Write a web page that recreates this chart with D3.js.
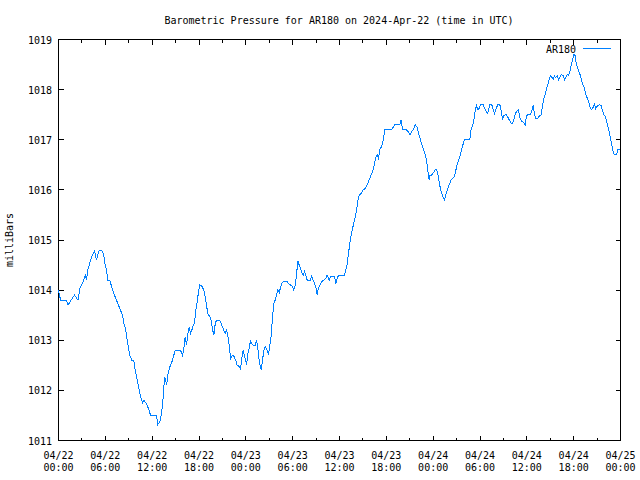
<!DOCTYPE html>
<html><head><meta charset="utf-8">
<script src="https://cdn.jsdelivr.net/npm/d3@7"></script>
<style>
html,body{margin:0;padding:0;background:#fff;}
svg text{font-family:"DejaVu Sans Mono","Liberation Mono",monospace;font-size:10px;fill:#000;}
</style></head>
<body><svg id="c" width="640" height="480"></svg>
<script>
const title = "Barometric Pressure for AR180 on 2024-Apr-22 (time in UTC)";
const yLabel = "milliBars";
const seriesName = "AR180";
const startTime = Date.UTC(2024, 3, 22, 0, 0);
const endTime = Date.UTC(2024, 3, 25, 0, 0);
const yTicks = [1011, 1012, 1013, 1014, 1015, 1016, 1017, 1018, 1019];
// hours since 2024-04-22 00:00 UTC
const hours = [0,0.17,0.26,1.02,1.22,1.6,2.05,2.5,2.73,2.95,3.24,3.42,3.59,3.75,3.93,4.1,4.36,4.61,4.87,5.03,5.25,5.51,5.8,5.98,6.15,6.32,6.57,6.75,6.96,7.17,7.43,7.69,7.94,8.2,8.36,8.62,8.8,8.97,9.13,9.39,9.65,9.83,9.99,10.16,10.34,10.51,10.76,10.93,11.18,11.44,11.62,11.79,12.56,12.72,12.98,13.16,13.32,13.45,13.58,13.75,13.84,14.0,14.18,14.35,14.61,14.77,14.95,15.63,15.89,16.05,16.23,16.4,16.57,16.74,16.91,17.08,17.26,17.42,17.59,17.77,17.94,18.1,18.36,18.61,18.79,18.96,19.13,19.38,19.56,19.73,19.9,20.08,20.24,20.66,20.92,21.18,21.36,21.52,21.69,21.87,22.04,22.2,22.42,22.71,22.89,23.15,23.32,23.48,23.66,23.83,23.99,24.09,24.25,24.43,24.6,24.76,24.98,25.2,25.37,25.53,25.62,25.79,25.97,26.14,26.3,26.48,26.65,26.81,26.9,27.07,27.25,27.41,27.58,27.76,27.93,28.09,28.28,28.44,28.61,28.83,29.3,29.47,29.72,29.98,30.14,30.32,30.49,30.66,30.84,31.0,31.17,31.35,31.52,31.68,31.86,32.28,32.45,32.63,32.8,32.96,33.14,33.31,33.48,33.73,33.99,34.24,34.42,34.68,34.85,35.36,35.53,35.71,35.87,36.64,36.81,36.99,37.15,37.32,37.5,37.67,37.83,38.01,38.18,38.34,38.52,38.78,39.04,39.29,39.55,39.8,40.06,40.32,40.48,40.65,40.83,41.0,41.16,41.34,41.51,41.68,41.77,42.66,42.88,43.05,43.73,43.9,44.07,44.58,44.84,45.01,45.19,45.44,45.7,45.95,46.12,46.38,46.54,46.72,46.89,47.06,47.24,47.4,47.49,47.57,47.82,48.08,48.26,48.43,48.59,48.77,48.94,49.11,49.29,49.45,49.62,49.8,49.96,50.13,50.31,50.48,50.64,50.82,50.99,51.16,51.34,51.5,51.67,51.85,52.01,52.69,52.78,52.87,53.04,53.21,53.38,53.55,53.72,53.9,54.06,54.41,54.58,54.74,54.92,55.09,55.26,55.51,55.69,55.86,56.02,56.28,56.54,56.72,56.88,57.05,57.23,57.39,57.56,57.74,58.0,58.16,58.33,58.51,58.68,58.93,59.1,59.28,59.53,59.79,59.96,60.12,60.47,60.64,60.82,60.98,61.15,61.41,61.58,61.84,62.01,62.18,62.35,62.52,62.69,62.87,63.03,63.2,63.38,63.54,63.71,63.89,64.06,64.22,64.4,64.66,64.82,64.99,65.17,65.34,65.5,65.68,65.85,66.02,66.2,66.27,66.45,66.62,66.78,66.97,67.13,67.3,67.48,67.64,67.81,67.99,68.15,68.32,68.5,68.66,68.83,69.01,69.27,69.53,69.69,69.86,70.04,70.21,70.37,70.55,70.72,70.89,71.07,71.23,71.49,71.66,71.92];
const pressure = [1014.0,1013.87,1013.8,1013.8,1013.7,1013.8,1013.9,1013.8,1014.03,1014.1,1014.2,1014.3,1014.2,1014.4,1014.5,1014.6,1014.7,1014.78,1014.6,1014.7,1014.8,1014.8,1014.7,1014.5,1014.4,1014.2,1014.2,1014.1,1014.0,1013.9,1013.8,1013.7,1013.6,1013.5,1013.35,1013.2,1013.0,1012.85,1012.7,1012.6,1012.6,1012.4,1012.27,1012.15,1012.0,1011.87,1011.75,1011.8,1011.75,1011.67,1011.6,1011.5,1011.5,1011.32,1011.37,1011.5,1011.7,1011.93,1012.27,1012.2,1012.1,1012.3,1012.43,1012.5,1012.6,1012.7,1012.8,1012.8,1012.7,1012.83,1013.07,1012.9,1013.13,1013.27,1013.13,1013.2,1013.3,1013.35,1013.6,1013.77,1013.97,1014.1,1014.08,1014.0,1013.87,1013.7,1013.53,1013.47,1013.4,1013.22,1013.1,1013.33,1013.4,1013.4,1013.3,1013.2,1013.13,1013.2,1013.1,1012.9,1012.63,1012.68,1012.7,1012.6,1012.5,1012.48,1012.43,1012.63,1012.8,1012.67,1012.6,1012.5,1012.73,1012.83,1013.0,1012.93,1012.9,1012.9,1013.0,1012.87,1012.7,1012.53,1012.4,1012.6,1012.8,1012.88,1012.83,1012.77,1012.7,1012.9,1013.1,1013.43,1013.73,1013.8,1013.9,1014.0,1013.95,1014.05,1014.13,1014.18,1014.18,1014.13,1014.1,1014.07,1014.0,1014.1,1014.3,1014.58,1014.5,1014.43,1014.35,1014.3,1014.37,1014.3,1014.2,1014.2,1014.28,1014.2,1014.13,1014.07,1013.9,1014.05,1014.1,1014.17,1014.2,1014.23,1014.3,1014.2,1014.28,1014.28,1014.13,1014.23,1014.3,1014.3,1014.4,1014.53,1014.73,1014.93,1015.1,1015.22,1015.35,1015.45,1015.6,1015.77,1015.9,1015.93,1016.0,1016.03,1016.1,1016.2,1016.3,1016.4,1016.53,1016.65,1016.7,1016.63,1016.8,1016.85,1016.92,1017.05,1017.2,1017.2,1017.25,1017.3,1017.3,1017.4,1017.2,1017.2,1017.15,1017.1,1017.15,1017.2,1017.3,1017.25,1017.13,1017.0,1016.9,1016.83,1016.75,1016.65,1016.5,1016.27,1016.2,1016.28,1016.3,1016.35,1016.4,1016.4,1016.32,1016.15,1016.02,1015.92,1015.85,1015.8,1015.9,1016.0,1016.07,1016.12,1016.2,1016.23,1016.25,1016.33,1016.45,1016.55,1016.62,1016.72,1016.82,1016.92,1017.0,1017.0,1017.12,1017.22,1017.28,1017.38,1017.58,1017.68,1017.6,1017.63,1017.7,1017.7,1017.63,1017.58,1017.52,1017.58,1017.7,1017.7,1017.6,1017.52,1017.6,1017.7,1017.7,1017.58,1017.42,1017.48,1017.5,1017.5,1017.45,1017.4,1017.32,1017.32,1017.4,1017.5,1017.57,1017.6,1017.45,1017.38,1017.35,1017.3,1017.48,1017.5,1017.5,1017.58,1017.7,1017.5,1017.42,1017.42,1017.47,1017.5,1017.68,1017.82,1017.9,1018.02,1018.1,1018.2,1018.28,1018.25,1018.2,1018.27,1018.24,1018.28,1018.2,1018.25,1018.3,1018.28,1018.2,1018.25,1018.3,1018.28,1018.35,1018.48,1018.6,1018.7,1018.68,1018.58,1018.45,1018.38,1018.32,1018.22,1018.1,1018.08,1017.95,1017.87,1017.8,1017.72,1017.62,1017.6,1017.65,1017.7,1017.62,1017.67,1017.7,1017.68,1017.58,1017.5,1017.47,1017.38,1017.28,1017.15,1017.03,1016.9,1016.75,1016.7,1016.7,1016.8,1016.8];

const data = hours.map((h, i) => ({t: new Date(startTime + h * 3600e3), v: pressure[i]}));
const L = 58.5, R = 620.5, T = 39.5, B = 440.5;
const svg = d3.select("#c");
const x = d3.scaleUtc().domain([new Date(startTime), new Date(endTime)]).range([L, R]);
const y = d3.scaleLinear().domain([1011, 1019]).range([B, T]);
const major = d3.utcHour.every(6).range(new Date(startTime), new Date(endTime + 1));
const minor = d3.utcHour.every(3).range(new Date(startTime), new Date(endTime + 1));
const fmtD = d3.utcFormat("%m/%d"), fmtT = d3.utcFormat("%H:%M");

// title
svg.append("text").attr("x", 339).attr("y", 24).attr("text-anchor", "middle").text(title);
// y label
svg.append("text").attr("transform", "translate(13,240) rotate(-90)").attr("text-anchor", "middle").text(yLabel);

const g = svg.append("g").attr("stroke", "#000").attr("stroke-width", 1).attr("shape-rendering", "crispEdges");
// ticks (bottom & mirrored top)
minor.forEach(d => {
  const isMajor = d.getUTCHours() % 6 === 0;
  const len = isMajor ? 5 : 3;
  const px = Math.round(x(d) - 0.5) + 0.5;
  g.append("line").attr("x1", px).attr("x2", px).attr("y1", B).attr("y2", B - len);
  g.append("line").attr("x1", px).attr("x2", px).attr("y1", T).attr("y2", T + len);
});
yTicks.forEach(v => {
  const py = Math.round(y(v) - 0.5) + 0.5;
  g.append("line").attr("x1", L).attr("x2", L + 5).attr("y1", py).attr("y2", py);
  g.append("line").attr("x1", R).attr("x2", R - 5).attr("y1", py).attr("y2", py);
});
// y tick labels
yTicks.forEach(v => {
  svg.append("text").attr("x", 52).attr("y", y(v) + 4).attr("text-anchor", "end").text(v);
});
// x tick labels
major.forEach(d => {
  const t = svg.append("text").attr("text-anchor", "middle");
  t.append("tspan").attr("x", x(d)).attr("y", 459).text(fmtD(d));
  t.append("tspan").attr("x", x(d)).attr("y", 471).text(fmtT(d));
});

// data line
const line = d3.line().x(d => x(d.t)).y(d => y(d.v));
svg.append("path").datum(data).attr("d", line).attr("fill", "none")
  .attr("stroke", "#0080ff").attr("stroke-width", 1).attr("shape-rendering", "crispEdges");

// border
g.append("rect").attr("x", L).attr("y", T).attr("width", R - L).attr("height", B - T).attr("fill", "none");

// legend
svg.append("text").attr("x", 576).attr("y", 53).attr("text-anchor", "end").text(seriesName);
svg.append("line").attr("x1", 583).attr("x2", 611).attr("y1", 48.5).attr("y2", 48.5)
  .attr("stroke", "#0080ff").attr("stroke-width", 1).attr("shape-rendering", "crispEdges");
</script></body></html>
